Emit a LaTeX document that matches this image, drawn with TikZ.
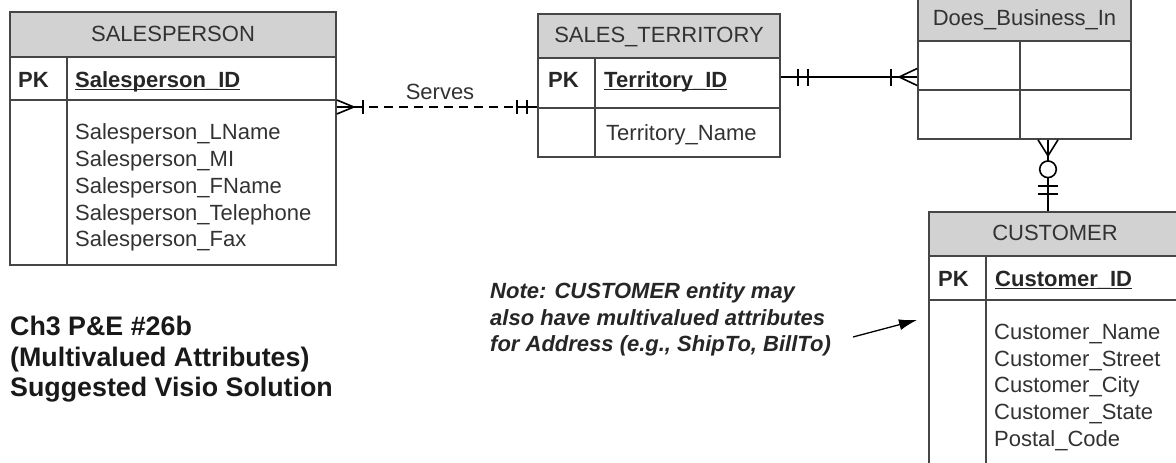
\documentclass[tikz,border=0pt]{standalone}
\usepackage{fontspec}
\setmainfont{Liberation Sans}
\usetikzlibrary{arrows.meta}
\definecolor{hdr}{RGB}{210,210,210}
\definecolor{bord}{RGB}{70,70,70}
\definecolor{txtc}{RGB}{50,50,50}
\begin{document}
\begin{tikzpicture}[x=1pt,y=-1pt,
  tblbox/.style={draw=bord, line width=1.6pt, inner sep=0pt},
  tblline/.style={draw=bord, line width=1.6pt},
  attr/.style={inner sep=0pt, anchor=base west, text=txtc, font=\fontsize{22}{26}\selectfont},
  hdtext/.style={inner sep=0pt, anchor=base, text=txtc, font=\fontsize{22}{26}\selectfont},
  pktext/.style={inner sep=0pt, anchor=base west, text=black!85, font=\bfseries\fontsize{22}{26}\selectfont},
  conn/.style={line width=1.6pt, black},
  notetext/.style={inner sep=0pt, anchor=base west, text=black!85, font=\bfseries\itshape\fontsize{22}{26}\selectfont},
  titletext/.style={inner sep=0pt, anchor=base west, text=black!90, font=\bfseries\fontsize{26.8}{30}\selectfont},
  uline/.style={line width=1.3pt, black!85}
]
\path[use as bounding box] (0,0) rectangle (1176,463);
\clip (0,0) rectangle (1176,463);

% ---------- SALESPERSON ----------
\fill[hdr] (10,12) rectangle (336,57);
\node[tblbox, minimum width=326pt, minimum height=253pt] (SP) at (173,138.5) {};
\draw[tblline] (10,57) -- (336,57);
\draw[tblline] (10,100) -- (336,100);
\draw[tblline] (67,57) -- (67,265);
\node[hdtext] (sphd) at (173,41.7) {SALESPERSON};
\node[pktext] (sppk) at (18,87.3) {PK};
\node[pktext] (spid) at (75,87.3) {Salesperson\_ID};
\draw[uline] ([yshift=-2.5pt]spid.base west) -- ([yshift=-2.5pt]spid.base east);
\foreach \t [count=\i] in {Salesperson\_LName,Salesperson\_MI,Salesperson\_FName,Salesperson\_Telephone,Salesperson\_Fax}
  \node[attr] (spa\i) at (75,{139.3+26.9*(\i-1)}) {\t};

% ---------- SALES_TERRITORY ----------
\fill[hdr] (538,14) rectangle (780,58);
\node[tblbox, minimum width=242pt, minimum height=143pt] (ST) at (659,85.5) {};
\draw[tblline] (538,58) -- (780,58);
\draw[tblline] (538,108) -- (780,108);
\draw[tblline] (595,58) -- (595,157);
\node[hdtext] (sthd) at (659,42.7) {SALES\_TERRITORY};
\node[pktext] (stpk) at (548,87.3) {PK};
\node[pktext] (stid) at (604,87.3) {Territory\_ID};
\draw[uline] ([yshift=-2.5pt]stid.base west) -- ([yshift=-2.5pt]stid.base east);
\node[attr] (sta1) at (606,140) {Territory\_Name};

% ---------- Does_Business_In ----------
\fill[hdr] (918,-1) rectangle (1131,41);
\node[tblbox, minimum width=213pt, minimum height=140pt] (DB) at (1024.5,69) {};
\draw[tblline] (918,41) -- (1131,41);
\draw[tblline] (918,90) -- (1131,90);
\draw[tblline] (1020,41) -- (1020,139);
\node[hdtext] (dbhd) at (1024.5,25) {Does\_Business\_In};

% ---------- CUSTOMER ----------
\fill[hdr] (929,212) rectangle (1181,256);
\node[tblbox, minimum width=252pt, minimum height=278pt] (CU) at (1055,351) {};
\draw[tblline] (929,256) -- (1181,256);
\draw[tblline] (929,300) -- (1181,300);
\draw[tblline] (986,256) -- (986,490);
\node[hdtext] (cuhd) at (1055,240) {CUSTOMER};
\node[pktext] (cupk) at (938,286) {PK};
\node[pktext] (cuid) at (995,286) {Customer\_ID};
\draw[uline] ([yshift=-2.5pt]cuid.base west) -- ([yshift=-2.5pt]cuid.base east);
\foreach \t [count=\i] in {Customer\_Name,Customer\_Street,Customer\_City,Customer\_State,Postal\_Code}
  \node[attr] (cua\i) at (994,{339.3+26.7*(\i-1)}) {\t};

% ---------- Serves (SALESPERSON -- SALES_TERRITORY) ----------
\coordinate (spR) at (SP.east |- 0,107);
\coordinate (stL) at (ST.west |- 0,107);
\draw[conn] ([shift={(0,-7)}]spR) -- ([shift={(17,0)}]spR) -- ([shift={(0,7)}]spR);
\draw[conn] (spR) -- ([shift={(17,0)}]spR);
\draw[conn] ([shift={(26,-7)}]spR) -- ([shift={(26,7)}]spR);
\draw[conn, dash pattern=on 9pt off 6pt] ([shift={(17,0)}]spR) -- ([shift={(-20,0)}]stL);
\draw[conn] ([shift={(-20,0)}]stL) -- (stL);
\draw[conn] ([shift={(-20,-7)}]stL) -- ([shift={(-20,7)}]stL);
\draw[conn] ([shift={(-10,-7)}]stL) -- ([shift={(-10,7)}]stL);
\node[hdtext] (serves) at (440,99.3) {Serves};

% ---------- SALES_TERRITORY -- Does_Business_In ----------
\coordinate (stR) at (ST.east |- 0,77);
\coordinate (dbL) at (DB.west |- 0,77);
\draw[conn] (stR) -- (dbL);
\draw[conn] ([shift={(17,-8.5)}]stR) -- ([shift={(17,8.5)}]stR);
\draw[conn] ([shift={(27,-8.5)}]stR) -- ([shift={(27,8.5)}]stR);
\draw[conn] ([shift={(-26,-8.5)}]dbL) -- ([shift={(-26,8.5)}]dbL);
\draw[conn] ([shift={(0,-8.5)}]dbL) -- ([shift={(-18,0)}]dbL) -- ([shift={(0,8.5)}]dbL);

% ---------- Does_Business_In -- CUSTOMER ----------
\coordinate (dbB) at (1048,0 |- DB.south);
\coordinate (cuT) at (1048,0 |- CU.north);
\draw[conn] ([shift={(-10,0)}]dbB) -- ([shift={(0,16)}]dbB) -- ([shift={(10,0)}]dbB);
\draw[conn] (dbB) -- ([shift={(0,21)}]dbB);
\draw[conn] ([shift={(0,29.5)}]dbB) circle[radius=8.3pt];
\draw[conn] ([shift={(0,38)}]dbB) -- (cuT);
\draw[conn] ([shift={(-10,46)}]dbB) -- ([shift={(10,46)}]dbB);
\draw[conn] ([shift={(-10,54)}]dbB) -- ([shift={(10,54)}]dbB);

% ---------- Note ----------
\node[notetext] (n1) at (490,298.3) {Note: CUSTOMER entity may};
\node[notetext] (n2) at (490,325) {also have multivalued attributes};
\node[notetext] (n3) at (490,351.7) {for Address (e.g., ShipTo, BillTo)};
\coordinate (nA) at (853,337);
\coordinate (nB) at (917,320);
\draw[line width=1.3pt, black, -{Latex[length=18pt,width=11pt]}] (nA) -- (nB);

% ---------- Title ----------
\node[titletext] (t1) at (10,335) {Ch3 P\&E \#26b};
\node[titletext] (t2) at (10,366.7) {(Multivalued Attributes)};
\node[titletext] (t3) at (10,396.7) {Suggested Visio Solution};
\end{tikzpicture}
\end{document}
